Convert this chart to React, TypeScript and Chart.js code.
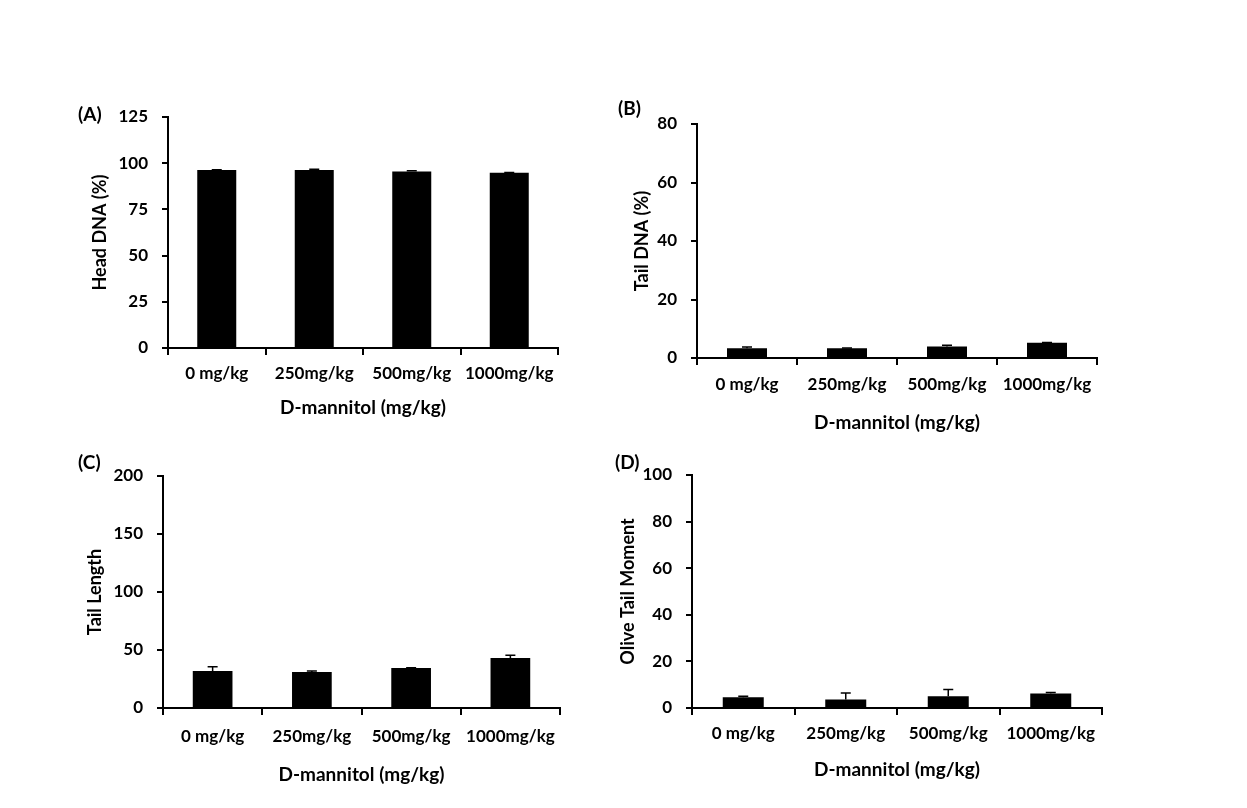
import React, { useEffect, useRef } from "react";
import { Chart, registerables } from "chart.js";

Chart.register(...registerables);

const categories = ["0 mg/kg", "250mg/kg", "500mg/kg", "1000mg/kg"];
const xTitle = "D-mannitol (mg/kg)";

const headDNA = [96.3, 96.3, 95.5, 94.8];
const headDNAErr = [0.2, 0.4, 0.4, 0.1];

const tailDNA = [3.3, 3.3, 3.9, 5.2];
const tailDNAErr = [0.5, 0.1, 0.5, 0.1];

const tailLength = [32, 31, 34.5, 43];
const tailLengthErr = [3.5, 0.8, 0.3, 2.5];

const oliveTM = [4.6, 3.6, 5.0, 6.2];
const oliveTMErr = [0.4, 2.8, 2.9, 0.5];

const panelLabels = ["(A)", "(B)", "(C)", "(D)"];
const yTitles = ["Head DNA (%)", "Tail DNA (%)", "Tail Length", "Olive Tail Moment"];
const yMaxes = [125, 80, 200, 100];
const ySteps = [25, 20, 50, 20];

const FONT = "Lato, 'Open Sans', sans-serif";

// geometry (page coords): chart area L,T,R,B ; yTitle center x ; x tick center y ; x title center y ; label x,y
const geometry = [
  { L: 168, T: 117, R: 558, B: 348, yTitleX: 100, xTickY: 373, xTitleY: 408, labX: 78, labY: 115 },
  { L: 697, T: 124, R: 1097, B: 358, yTitleX: 642, xTickY: 384, xTitleY: 423, labX: 618, labY: 109 },
  { L: 163, T: 476, R: 560, B: 708, yTitleX: 95, xTickY: 736, xTitleY: 775, labX: 78, labY: 463 },
  { L: 692, T: 475, R: 1102, B: 708, yTitleX: 628, xTickY: 733, xTitleY: 770, labX: 615, labY: 463 },
];

const errorBarPlugin = {
  id: "errorBars",
  afterDatasetsDraw(chart: any, _args: any, opts: any) {
    const errs: number[] = opts.errors || [];
    const meta = chart.getDatasetMeta(0);
    const ys = chart.scales.y;
    const data = chart.data.datasets[0].data as number[];
    const ctx = chart.ctx;
    ctx.save();
    ctx.strokeStyle = "#000";
    ctx.lineWidth = 1.5;
    meta.data.forEach((el: any, i: number) => {
      const e = errs[i] || 0;
      if (e <= 0) return;
      const top = ys.getPixelForValue(data[i] + e);
      ctx.beginPath();
      ctx.moveTo(el.x, el.y);
      ctx.lineTo(el.x, top);
      ctx.moveTo(el.x - 5, top);
      ctx.lineTo(el.x + 5, top);
      ctx.stroke();
    });
    ctx.restore();
  },
};

const panelLabelPlugin = {
  id: "panelLabel",
  afterDraw(chart: any, _args: any, opts: any) {
    const ctx = chart.ctx;
    ctx.save();
    ctx.fillStyle = "#000";
    ctx.font = `bold 19px ${FONT}`;
    ctx.textAlign = "left";
    ctx.textBaseline = "middle";
    ctx.fillText(opts.text, opts.x, opts.y);
    ctx.restore();
  },
};

function Panel({ idx, values, errors }: { idx: number; values: number[]; errors: number[] }) {
  const ref = useRef<HTMLCanvasElement>(null);
  const g = geometry[idx];
  const cx = g.L - 110;
  const cy = g.T - 28;
  const cw = g.R - cx + 12;
  const ch = g.xTitleY + 20 - cy;

  useEffect(() => {
    if (!ref.current) return;
    const yTitleLH = 18 * 1.2;
    const xTitleLH = 19 * 1.2;
    const tickFontSize = 17;
    const chart = new Chart(ref.current, {
      type: "bar",
      data: {
        labels: categories,
        datasets: [
          {
            data: values,
            backgroundColor: "#000",
            borderWidth: 0,
            barPercentage: 0.4,
            categoryPercentage: 1,
          },
        ],
      },
      plugins: [errorBarPlugin, panelLabelPlugin],
      options: {
        animation: false,
        responsive: false,
        devicePixelRatio: 1,
        layout: { padding: { top: g.T - cy, right: cx + cw - g.R, left: 0, bottom: 0 } },
        plugins: {
          legend: { display: false },
          tooltip: { enabled: false },
          errorBars: { errors },
          panelLabel: { text: panelLabels[idx], x: g.labX - cx, y: g.labY - cy },
        } as any,
        scales: {
          x: {
            afterFit: (s: any) => {
              s.height = cy + ch - g.B;
            },
            grid: {
              display: true,
              drawOnChartArea: false,
              drawTicks: true,
              tickLength: 7,
              color: "#000",
              lineWidth: 2,
              offset: true,
            },
            border: { display: true, color: "#000", width: 2 },
            ticks: {
              color: "#000",
              font: { family: FONT, size: tickFontSize, weight: "bold" },
              padding: g.xTickY - g.B - 7 - 10,
              maxRotation: 0,
              autoSkip: false,
            },
            title: {
              display: true,
              text: xTitle,
              color: "#000",
              font: { family: FONT, size: 19, weight: "bold" },
              padding: { top: 0, bottom: cy + ch - g.xTitleY - xTitleLH / 2 },
            },
          },
          y: {
            min: 0,
            max: yMaxes[idx],
            afterFit: (s: any) => {
              s.width = g.L - cx;
            },
            grid: {
              display: true,
              drawOnChartArea: false,
              drawTicks: true,
              tickLength: 6,
              color: "#000",
              lineWidth: 2,
            },
            border: { display: true, color: "#000", width: 2 },
            ticks: {
              stepSize: ySteps[idx],
              color: "#000",
              font: { family: FONT, size: tickFontSize, weight: "bold" },
              padding: 14,
            },
            title: {
              display: true,
              text: yTitles[idx],
              color: "#000",
              font: { family: FONT, size: 18, weight: "bold" },
              padding: { top: g.yTitleX - cx - yTitleLH / 2, bottom: 0 },
            },
          },
        },
      } as any,
    });
    return () => chart.destroy();
  }, []);

  return (
    <canvas
      ref={ref}
      width={cw}
      height={ch}
      style={{ position: "absolute", left: cx, top: cy, width: cw, height: ch }}
    />
  );
}

export default function App() {
  return (
    <div style={{ position: "fixed", left: 0, top: 0, width: 1247, height: 808, background: "#fff" }}>
      <Panel idx={0} values={headDNA} errors={headDNAErr} />
      <Panel idx={1} values={tailDNA} errors={tailDNAErr} />
      <Panel idx={2} values={tailLength} errors={tailLengthErr} />
      <Panel idx={3} values={oliveTM} errors={oliveTMErr} />
    </div>
  );
}
